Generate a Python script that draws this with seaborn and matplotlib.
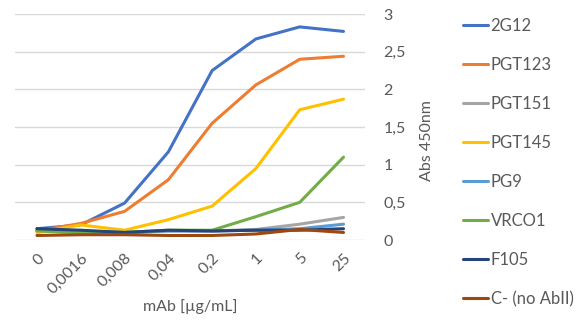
import matplotlib
matplotlib.use("Agg")
import matplotlib.pyplot as plt
import seaborn as sns
import pandas as pd

concentrations = ["0", "0,0016", "0,008", "0,04", "0,2", "1", "5", "25"]
series_names = ["2G12", "PGT123", "PGT151", "PGT145", "PG9", "VRCO1", "F105", "C- (no AbII)"]

v_2g12 = [0.15, 0.20, 0.49, 1.17, 2.25, 2.67, 2.83, 2.77]
v_pgt123 = [0.12, 0.22, 0.38, 0.80, 1.55, 2.06, 2.40, 2.44]
v_pgt151 = [0.12, 0.10, 0.10, 0.12, 0.12, 0.14, 0.21, 0.30]
v_pgt145 = [0.10, 0.20, 0.13, 0.27, 0.45, 0.95, 1.73, 1.87]
v_pg9 = [0.13, 0.12, 0.10, 0.12, 0.12, 0.13, 0.15, 0.21]
v_vrc01 = [0.12, 0.10, 0.10, 0.13, 0.13, 0.31, 0.50, 1.10]
v_f105 = [0.15, 0.13, 0.10, 0.13, 0.12, 0.13, 0.13, 0.15]
v_neg = [0.06, 0.07, 0.07, 0.06, 0.06, 0.08, 0.14, 0.10]

colors = ["#4472C4", "#ED7D31", "#A5A5A5", "#FFC000", "#5B9BD5", "#70AD47", "#264478", "#9E480E"]

all_values = [v_2g12, v_pgt123, v_pgt151, v_pgt145, v_pg9, v_vrc01, v_f105, v_neg]
rows = []
for name, vals in zip(series_names, all_values):
    for i, v in enumerate(vals):
        rows.append({"conc": i, "abs": v, "mAb": name})
df = pd.DataFrame(rows)

sns.set_theme(style="white")
plt.rcParams["font.family"] = ["Lato", "DejaVu Sans"]
text_color = "#595959"

fig = plt.figure(figsize=(5.8, 3.2), dpi=100)
ax = fig.add_axes([0.026, 0.25, 0.604, 0.706])

sns.lineplot(data=df, x="conc", y="abs", hue="mAb", hue_order=series_names,
             palette=colors, linewidth=2.2, ax=ax, legend=False, sort=False)

ax.set_ylim(0, 3)
ax.set_xlim(-0.5, 7.5)
ax.set_yticks([0, 0.5, 1, 1.5, 2, 2.5, 3])
ax.set_yticklabels(["0", "0,5", "1", "1,5", "2", "2,5", "3"])
ax.yaxis.tick_right()
ax.yaxis.set_label_position("right")
ax.set_xticks(range(len(concentrations)))
ax.set_xticklabels(concentrations, rotation=45, ha="right", rotation_mode="anchor")
ax.tick_params(axis="both", length=0, labelsize=11.5, colors=text_color)
ax.tick_params(axis="y", pad=13)
ax.tick_params(axis="x", pad=8)
ax.grid(axis="y", color="#D9D9D9", linewidth=1)
for s in ax.spines.values():
    s.set_visible(False)
ax.set_xlabel("mAb [µg/mL]", fontsize=11.5, color=text_color, labelpad=2)
ax.set_ylabel("Abs 450nm", fontsize=11.5, color=text_color, rotation=90,
              va="center", ha="center")
ax.yaxis.set_label_coords(1.177, 0.44)

handles = [plt.Line2D([0], [0], color=c, linewidth=2.2) for c in colors]
fig.legend(handles, series_names, loc="upper left", bbox_to_anchor=(0.787, 0.965),
           frameon=False, fontsize=12, labelcolor=text_color, handlelength=1.5,
           handletextpad=0.15, labelspacing=1.38, borderaxespad=0)

fig.savefig("out.png", dpi=100)
